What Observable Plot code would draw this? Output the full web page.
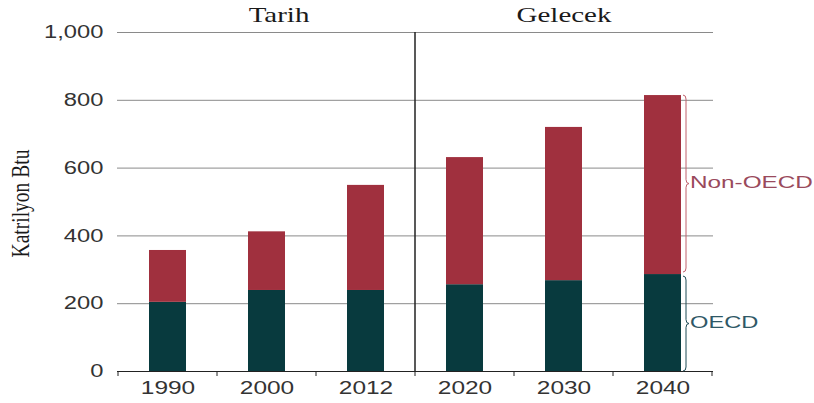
<!DOCTYPE html>
<html><head><meta charset="utf-8">
<script src="https://cdn.jsdelivr.net/npm/d3@7"></script>
<script src="https://cdn.jsdelivr.net/npm/@observablehq/plot@0.6"></script>
<style>body{margin:0;background:#fff}</style>
</head><body><div id="chart"></div>
<script>
const years = ["1990","2000","2012","2020","2030","2040"];
const oecd = [204, 239, 239, 256, 268, 286];
const nonOecd = [153, 173, 310, 375, 452, 528];
const yTicks = [0, 200, 400, 600, 800, 1000];
const seriesNames = ["OECD", "Non-OECD"];
const seriesColors = ["#083a3e", "#a0303e"];
const labelColors = ["#2f5866", "#9a4a5c"];
const braceColors = ["#1d4a55", "#c0606c"];
const groupLabels = ["Tarih", "Gelecek"];
const groupAt = ["2000", "2030"];
const groupDx = [12, 0];
const yLabel = "Katrilyon Btu";
const dividerBefore = "2020";

const data = years.flatMap((y, i) => [
  {year: y, series: seriesNames[0], value: oecd[i]},
  {year: y, series: seriesNames[1], value: nonOecd[i]}
]);
const groups = groupLabels.map((l, i) => ({label: l, at: groupAt[i], dx: groupDx[i]}));
const fmt = d3.format(",");

const plot = Plot.plot({
  width: 814, height: 403,
  marginLeft: 117, marginRight: 101, marginTop: 32, marginBottom: 32,
  style: {fontFamily: "'Liberation Sans', Arial, sans-serif", fontSize: "18px", color: "#333", background: "#fff"},
  x: {domain: years, paddingInner: 0.627, paddingOuter: 0.3135, label: null},
  y: {domain: [0, 1000], label: null},
  color: {domain: seriesNames, range: seriesColors},
  marks: [
    Plot.gridY(yTicks, {stroke: "#8a8a8a", strokeOpacity: 1, strokeWidth: 1}),
    Plot.barY(data, {x: "year", y: "value", fill: "series", order: seriesNames}),
    Plot.ruleY([0], {stroke: "#222", strokeWidth: 1.2}),
    Plot.axisY(yTicks, {tickSize: 0, tickPadding: 14, tickFormat: d => fmt(d), fontSize: 18, label: null}),
    Plot.axisX({tickSize: 0, tickPadding: 10, fontSize: 18, label: null}),
    Plot.text(groups, {x: "at", y: () => 1000, text: "label", dy: -17,
      fontFamily: "'Liberation Serif', 'Times New Roman', serif", fontSize: 20, fill: "#1a1a1a"})
  ]
});
document.getElementById("chart").appendChild(plot);

const svgns = "http://www.w3.org/2000/svg";
const svg = d3.select(plot);
const sx = plot.scale("x");
const sy = plot.scale("y");
const center = v => sx.apply(v) + sx.bandwidth / 2;
const half = sx.step / 2;

// horizontally stretch a text about its anchor point, keeping its position
function stretch(node, s, dx = 0) {
  const bb = node.getBBox();
  const anchor = window.getComputedStyle(node).textAnchor || "start";
  const ax = anchor === "end" ? bb.x + bb.width : anchor === "middle" ? bb.x + bb.width / 2 : bb.x;
  const ay = bb.y + bb.height / 2;
  let px = ax, py = ay;
  const c = node.transform && node.transform.baseVal.consolidate();
  if (c) { const m = c.matrix; px = m.a * ax + m.c * ay + m.e; py = m.b * ax + m.d * ay + m.f; }
  const w = document.createElementNS(svgns, "g");
  w.setAttribute("transform", `translate(${px + dx},${py}) scale(${s},1) translate(${-px},${-py})`);
  node.parentNode.insertBefore(w, node);
  w.appendChild(node);
}
svg.selectAll('g[aria-label="y-axis tick label"] text').each(function() { stretch(this, 1.32); });
svg.selectAll('g[aria-label="x-axis tick label"] text').each(function() { stretch(this, 1.36); });
svg.selectAll("text").filter(function() { return groupLabels.includes(this.textContent); })
  .each(function() { const i = groupLabels.indexOf(this.textContent); stretch(this, 1.45, groupDx[i]); });

const y0 = sy.apply(0), yTop = sy.apply(1000);
const g = svg.append("g");
// x-axis ticks at band edges
const edges = years.map(y => center(y) - half).concat([center(years[years.length - 1]) + half]);
g.selectAll("line.edge").data(edges).join("line")
  .attr("x1", d => d).attr("x2", d => d).attr("y1", y0).attr("y2", y0 + 5)
  .attr("stroke", "#222").attr("stroke-width", 1);
// divider between history and projection
const xd = center(dividerBefore) - half;
g.append("line").attr("x1", xd).attr("x2", xd).attr("y1", yTop).attr("y2", y0)
  .attr("stroke", "#222").attr("stroke-width", 1.5);
// y label (stretched horizontally like the rest of the picture)
g.append("text").attr("transform", `translate(28.5,${(y0 + yTop) / 2 + 2}) scale(1.3,1) rotate(-90)`)
  .attr("text-anchor", "middle").attr("font-family", "'Liberation Serif', 'Times New Roman', serif")
  .attr("font-size", 19.5).attr("fill", "#1a1a1a").text(yLabel);

// braces + labels for last bar
const last = years.length - 1;
const bx = center(years[last]) + sx.bandwidth / 2 + 2;
function brace(x, ya, yb, w) {
  const ym = (ya + yb) / 2, r = 4, xm = x + w / 2;
  return `M${x},${ya} Q${xm},${ya} ${xm},${ya + r} L${xm},${ym - r} Q${xm},${ym} ${x + w},${ym} Q${xm},${ym} ${xm},${ym + r} L${xm},${yb - r} Q${xm},${yb} ${x},${yb}`;
}
const segs = [
  {ya: sy.apply(oecd[last]) + 2, yb: sy.apply(0), i: 0, s: 1.48},
  {ya: sy.apply(oecd[last] + nonOecd[last]), yb: sy.apply(oecd[last]) - 2, i: 1, s: 1.52}
];
segs.forEach(s => {
  g.append("path").attr("d", brace(bx, s.ya, s.yb, 6)).attr("fill", "none")
    .attr("stroke", braceColors[s.i]).attr("stroke-width", 1);
  const t = g.append("text").attr("x", bx + 7).attr("y", (s.ya + s.yb) / 2 - 1).attr("dy", "0.35em")
    .attr("text-anchor", "start")
    .attr("font-family", "'Liberation Sans', Arial, sans-serif").attr("font-size", 16)
    .attr("fill", labelColors[s.i]).text(seriesNames[s.i]);
  stretch(t.node(), s.s);
});
</script></body></html>
